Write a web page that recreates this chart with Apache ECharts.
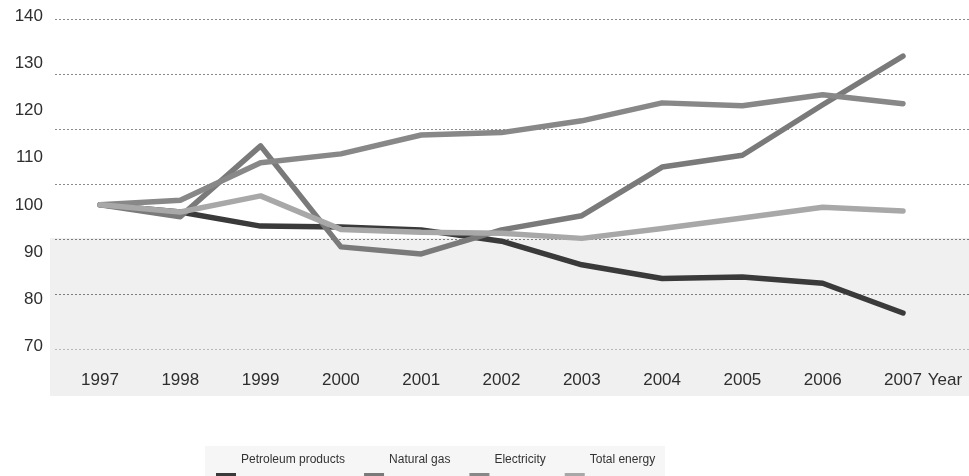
<!DOCTYPE html>
<html>
<head>
<meta charset="utf-8">
<style>
  html, body { margin: 0; padding: 0; background: #ffffff; }
  #chart { width: 969px; height: 476px; }
</style>
<script src="https://cdn.jsdelivr.net/npm/echarts@6/dist/echarts.min.js"></script>
</head>
<body>
<div id="chart"></div>
<script>
// Energy price indices, 1997 = 100
const years = ['1997', '1998', '1999', '2000', '2001', '2002', '2003', '2004', '2005', '2006', '2007'];
const petroleumProducts = [100, 98.5, 95.5, 95.3, 94.7, 92.3, 87.3, 84.4, 84.7, 83.4, 77.1];
const naturalGas = [100, 97.5, 112.5, 91.1, 89.6, 94.7, 97.7, 108.0, 110.5, 121.2, 131.5];
const electricity = [100, 101.0, 108.9, 110.8, 114.8, 115.3, 117.8, 121.6, 121.0, 123.3, 121.4];
const totalEnergy = [100, 98.5, 101.9, 94.8, 94.2, 94.0, 92.9, 95.0, 97.2, 99.5, 98.7];

const seriesNames = ['Petroleum products', 'Natural gas', 'Electricity', 'Total energy'];
const seriesColors = ['#3a3a3a', '#7a7a7a', '#888888', '#a8a8a8'];
const seriesValues = [petroleumProducts, naturalGas, electricity, totalEnergy];

const FONT = '"Liberation Sans", Arial, Helvetica, sans-serif';

const chart = echarts.init(document.getElementById('chart'), null, { renderer: 'canvas' });

const lineSeries = seriesNames.map((name, i) => ({
  name: name,
  type: 'line',
  xAxisIndex: 0,
  yAxisIndex: 0,
  data: seriesValues[i],
  symbol: 'none',
  smooth: false,
  z: 5,
  itemStyle: { color: seriesColors[i] },
  lineStyle: { color: seriesColors[i], width: 5.5, cap: 'round', join: 'round' }
}));

// the key is drawn as two aligned rows: names on top, colour swatches beneath
const legendCommon = {
  data: seriesNames,
  orient: 'horizontal',
  left: 211,
  padding: 5,
  icon: 'rect',
  itemWidth: 20,
  itemHeight: 12,
  itemGap: 19,
  selectedMode: false
};

chart.setOption({
  animation: false,
  backgroundColor: '#ffffff',
  textStyle: { fontFamily: FONT },
  graphic: [
    // shaded lower band behind the plot
    { type: 'rect', z: -10, shape: { x: 50, y: 238, width: 919, height: 158 }, style: { fill: '#f0f0f0' } },
    // shaded strip behind the key
    { type: 'rect', z: -10, shape: { x: 205, y: 446, width: 460, height: 30 }, style: { fill: '#f6f6f6' } }
  ],
  grid: [
    { left: 100, right: 66, top: 16, bottom: 129.5 },
    { left: 55, right: 0, top: 19.6, bottom: 127 }
  ],
  xAxis: [
    {
      gridIndex: 0,
      type: 'category',
      data: years,
      boundaryGap: false,
      axisLine: { show: false },
      axisTick: { show: false },
      splitLine: { show: false },
      axisLabel: { color: '#2e2e2e', fontSize: 17, margin: 25, fontFamily: FONT },
      name: 'Year',
      nameLocation: 'end',
      nameGap: 17,
      nameTextStyle: { color: '#2e2e2e', fontSize: 17, fontFamily: FONT, verticalAlign: 'top', padding: [25, 0, 0, 0] }
    },
    {
      gridIndex: 1,
      type: 'value',
      min: 0,
      max: 1,
      show: false
    }
  ],
  yAxis: [
    {
      gridIndex: 0,
      type: 'value',
      min: 70,
      max: 140,
      interval: 10,
      axisLine: { show: false },
      axisTick: { show: false },
      splitLine: { show: false },
      axisLabel: { color: '#2e2e2e', fontSize: 17, margin: 57, fontFamily: FONT }
    },
    {
      // dotted reference lines across the whole width
      gridIndex: 1,
      type: 'value',
      min: 0,
      max: 6,
      interval: 1,
      axisLine: { show: false },
      axisTick: { show: false },
      axisLabel: { show: false },
      splitLine: {
        show: true,
        lineStyle: {
          color: ['#b8b8b8', '#7c7c7c', '#7c7c7c', '#8a8a8a', '#8a8a8a', '#8a8a8a', '#8a8a8a'],
          width: 1,
          type: [2, 2]
        }
      }
    }
  ],
  legend: [
    Object.assign({}, legendCommon, {
      top: 449,
      itemStyle: { opacity: 0 },
      textStyle: { color: '#333333', fontSize: 12, fontFamily: FONT }
    }),
    Object.assign({}, legendCommon, {
      top: 468,
      textStyle: { color: 'rgba(0,0,0,0)', fontSize: 12, fontFamily: FONT }
    })
  ],
  series: lineSeries
});
</script>
</body>
</html>
